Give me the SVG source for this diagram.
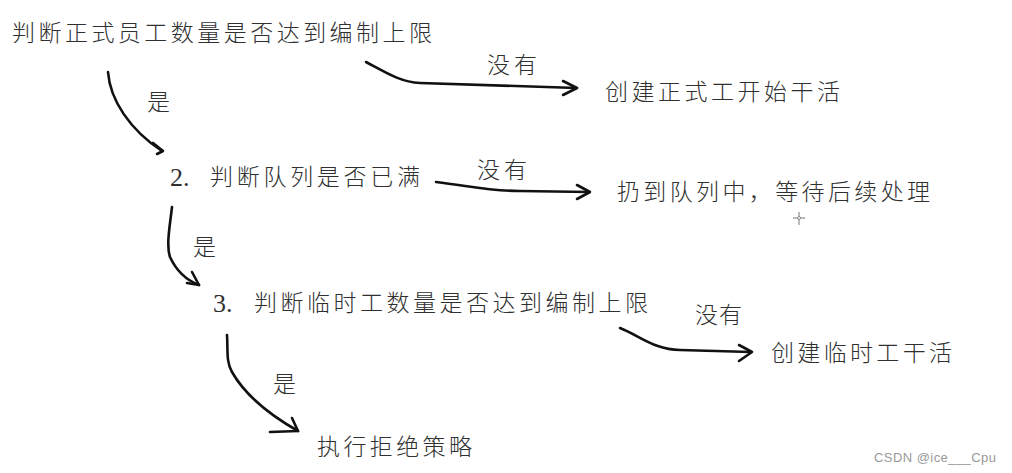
<svg xmlns="http://www.w3.org/2000/svg" width="1012" height="473" viewBox="0 0 1012 473">
<style>
.t{font-family:"Liberation Serif","Noto Sans CJK SC",serif;font-size:23px;font-weight:300;fill:#303030}
.d{font-size:26px}
.c{fill:none;stroke:#111;stroke-width:2.6;stroke-linecap:round;stroke-linejoin:round}
.w{font-family:"Liberation Sans","Noto Sans",sans-serif;font-size:13px;fill:#999}
</style>
<rect width="1012" height="473" fill="#fff"/>
<g id="n1"><text class="t" x="12" y="41" textLength="420" lengthAdjust="spacing">判断正式员工数量是否达到编制上限</text></g>
<g id="n2"><text class="t" x="605" y="100" textLength="235" lengthAdjust="spacing">创建正式工开始干活</text></g>
<g id="n3"><text class="t d" x="170" y="186">2.</text><text class="t" x="210" y="185" textLength="210" lengthAdjust="spacing">判断队列是否已满</text></g>
<g id="n4"><text class="t" x="617" y="200" textLength="313" lengthAdjust="spacing">扔到队列中，等待后续处理</text></g>
<g id="n5"><text class="t d" x="213" y="312">3.</text><text class="t" x="254" y="311" textLength="394" lengthAdjust="spacing">判断临时工数量是否达到编制上限</text></g>
<g id="n6"><text class="t" x="771" y="361" textLength="181" lengthAdjust="spacing">创建临时工干活</text></g>
<g id="n7"><text class="t" x="317" y="455" textLength="155" lengthAdjust="spacing">执行拒绝策略</text></g>
<g id="connectors">
<path class="c" d="M108,72 C110,100 130,130 162,151"/>
<path class="c" d="M153,143 L163,151 L157,154"/>
<path class="c" d="M366,62 C385,72 400,82 420,83 L577,88"/>
<path class="c" d="M563,81 L577,88 L563,95"/>
<path class="c" d="M436,182 C470,186 490,191 520,191 L589,192"/>
<path class="c" d="M577,185 L590,192 L577,199"/>
<path class="c" d="M172,207 C170,225 166,245 170,257 C176,270 186,280 199,285"/>
<path class="c" d="M192,272 L199,285 L187,283"/>
<path class="c" d="M227,335 C228,350 226,362 232,372 C245,395 270,415 298,431"/>
<path class="c" d="M292,418 L298,431 L270,432"/>
<path class="c" d="M620,328 C640,336 655,350 680,350 L751,352"/>
<path class="c" d="M739,345 L752,352 L739,361"/>
</g>
<g id="labels">
<text class="t" x="487" y="73" textLength="50" lengthAdjust="spacing">没有</text>
<text class="t" x="147" y="110">是</text>
<text class="t" x="477" y="178" textLength="50" lengthAdjust="spacing">没有</text>
<text class="t" x="193" y="255">是</text>
<text class="t" x="695" y="323" textLength="47" lengthAdjust="spacing">没有</text>
<text class="t" x="273" y="392">是</text>
</g>
<path d="M793,218 H805 M799,212 V225" stroke="#777" stroke-width="1" fill="none"/>
<circle cx="799" cy="218" r="1.5" fill="#fff" stroke="#777" stroke-width="0.8"/>
<text class="w" x="874" y="462" textLength="122" lengthAdjust="spacing">CSDN @ice___Cpu</text>
</svg>
